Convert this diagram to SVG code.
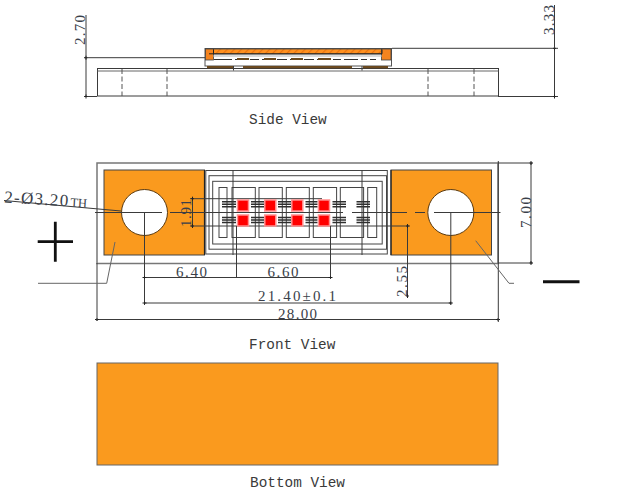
<svg xmlns="http://www.w3.org/2000/svg" width="621" height="492" viewBox="0 0 621 492">
<defs>
<pattern id="hatch" width="5" height="5" patternUnits="userSpaceOnUse" patternTransform="rotate(45)"><rect width="5" height="5" fill="#ff9120"/><rect width="1.2" height="5" fill="#e87410"/></pattern>
<marker id="tick" markerWidth="6" markerHeight="6" refX="3" refY="3" orient="auto"><path d="M1 3H5M3 1.600V4.400" stroke="#222" stroke-width="1" fill="none"/></marker>
</defs>
<style>
.l{fill:none;stroke:#444;stroke-width:1}
.m{fill:none;stroke:#3a3a3a;stroke-width:1}
.dim{fill:none;stroke:#3a3a3a;stroke-width:1;marker-start:url(#tick);marker-end:url(#tick)}
.d{fill:none;stroke:#555;stroke-width:1;stroke-dasharray:5 2.500}
.g{fill:none;stroke:#666;stroke-width:1}
.f{fill:none;stroke:#777;stroke-width:1.500}
.o{fill:#fa9a1e;stroke:#444;stroke-width:1}
.t{font-family:"Liberation Serif",serif;font-size:15px;fill:#3a3f4a}
.v{font-family:"Liberation Mono",monospace;font-size:14.400px;fill:#3a3a3a}
.b{stroke:#222;stroke-width:1.200;fill:none}
.r{fill:#f00;stroke:#ff8f8f;stroke-width:1.500}
.w{stroke:#2e2e2e;stroke-width:1.400;fill:none}
</style>
<rect width="621" height="492" fill="#fff"/>
<g id="side-view">
<rect class="m" x="97.500" y="68.500" width="401" height="27.500"/>
<path class="g" d="M97.500 71H498.500"/>
<path class="d" d="M122 69V96M167 69V96M428 69V96M474 69V96"/>
<rect x="205" y="48.500" width="186.500" height="17.500" fill="#fff" stroke="#555"/>
<rect x="205.500" y="49" width="185.500" height="5" fill="url(#hatch)" stroke="#444" stroke-width=".8"/>
<rect x="205.500" y="49" width="8" height="11" fill="#f5841f" stroke="#444" stroke-width=".8"/>
<rect x="381.500" y="49" width="9.500" height="11" fill="#f5841f" stroke="#444" stroke-width=".8"/>
<path d="M209 53.800H213.500V49.500M213.500 53.800H382M382 53.800V49.500" stroke="#222" stroke-width="1" fill="none"/>
<path d="M213.500 56H381.500" stroke="#ccc" stroke-width="1.500"/>
<path d="M214 59.500H232M235 59.500H247M250 59.500H259M262 59.500H274M277 59.500H287M290 59.500H301M304 59.500H314M317 59.500H330M333 59.500H341M344 59.500H358M361 59.500H367M370 59.500H376" stroke="#333" stroke-width="1.200"/>
<path d="M237 58.900H249M264 58.900H276M291 58.900H303M318 58.900H331" stroke="#6b4a20" stroke-width="2"/>
<path d="M207 67.200H233M243 67.200H352M363 67.200H388" stroke="#6b4a20" stroke-width="2.300"/>
<path class="m" d="M233.500 66V70.500M362 66V70.500"/>
</g>
<g id="front-view">
<rect class="f" x="97" y="163" width="401" height="100.500"/>
<rect class="o" x="104" y="170" width="100.500" height="85"/>
<rect class="o" x="391" y="170" width="100.500" height="85"/>
<circle cx="144.500" cy="212.500" r="23" fill="#fff" stroke="#5a3a10" stroke-width="1"/>
<circle cx="450.800" cy="212.500" r="23" fill="#fff" stroke="#5a3a10" stroke-width="1"/>
<path class="b" d="M204.500 170V255M391 170V255"/>
<rect class="l" x="205.800" y="170.500" width="181.500" height="83.500"/>
<rect class="l" x="209" y="175.700" width="177.500" height="73.500"/>
<rect class="l" x="212.700" y="181.300" width="169.500" height="62.700"/>
<rect class="l" x="219" y="187.500" width="8" height="50"/>
<rect class="l" x="232" y="187.500" width="23.300" height="50"/>
<rect class="l" x="259" y="187.500" width="23.300" height="50"/>
<rect class="l" x="286.300" y="187.500" width="23" height="50"/>
<rect class="l" x="313.300" y="187.500" width="23.300" height="50"/>
<rect class="l" x="340.300" y="187.500" width="23.300" height="50"/>
<rect class="l" x="367.700" y="187.500" width="9" height="50"/>
<path class="m" d="M95 212.500H162M170 212.500H343M352 212.500H407M415 212.500H425M434 212.500H500.500"/>
<path class="w" d="M222 201.800H236M251 201.800H264M278 201.800H291M305.500 201.800H317.500M332.500 201.800H346M356.500 201.800H370M222 204.300H236M251 204.300H264M278 204.300H291M305.500 204.300H317.500M332.500 204.300H346M356.500 204.300H370M222 206.800H236M251 206.800H264M278 206.800H291M305.500 206.800H317.500M332.500 206.800H346M356.500 206.800H370M222 217.500H236M251 217.500H264M278 217.500H291M305.500 217.500H317.500M332.500 217.500H346M356.500 217.500H370M222 220H236M251 220H264M278 220H291M305.500 220H317.500M332.500 220H346M356.500 220H370M222 222.500H236M251 222.500H264M278 222.500H291M305.500 222.500H317.500M332.500 222.500H346M356.500 222.500H370"/>
<path class="m" d="M190 198.700H322M190 226H410"/>
<path class="m" d="M233 170V255M362 170V255"/>
<g id="chips">
<rect class="r" x="237.500" y="200" width="11" height="11"/><rect class="r" x="237.500" y="215" width="11" height="11"/>
<rect class="r" x="264.800" y="200" width="11" height="11"/><rect class="r" x="264.800" y="215" width="11" height="11"/>
<rect class="r" x="291.800" y="200" width="11" height="11"/><rect class="r" x="291.800" y="215" width="11" height="11"/>
<rect class="r" x="318.500" y="200" width="11" height="11"/><rect class="r" x="318.500" y="215" width="11" height="11"/>
</g>
</g>
<g id="bottom-view">
<rect x="97" y="363" width="401" height="102" fill="#fa9a1e" stroke="#666"/>
</g>
<g id="connectors">
<path class="m" d="M84 57.700H205M392 48.300H558M84 96.500H97M498 96.500H558"/>
<path class="dim" d="M86 57.700V96.500"/>
<path class="m" d="M86 15V57.700"/>
<path class="dim" d="M554.500 48.300V96.500"/>
<path class="m" d="M554.500 5V48.300"/>
<path class="dim" d="M192.500 198.700V226"/>
<path class="m" d="M144.500 212.500V305M450.800 212.500V305M236.500 226V278M330.500 226V278"/>
<path class="dim" d="M407.500 226V296"/>
<path class="dim" d="M144.500 277.500H330.500"/>
<path class="dim" d="M144.500 303H450.800"/>
<path class="dim" d="M97 319.500H498"/>
<path class="m" d="M97 263V321M498.300 161V322M498 163H533M498 263H533"/>
<path class="dim" d="M531 163V263"/>
<path class="m" d="M4 200.500L121 211"/>
<path class="g" d="M38 283.300H106.700L115 242M475.700 240.700L509 283.300H514"/>
</g>
<g id="polarity">
<path d="M37.700 241.700H73M55.300 221.700V261.700" stroke="#111" stroke-width="2.800"/>
<path d="M543 281.700H579.500" stroke="#111" stroke-width="3"/>
</g>
<g id="labels">
<text class="t" transform="translate(85 45) rotate(-90)" textLength="30" lengthAdjust="spacing">2.70</text>
<text class="t" transform="translate(554 35) rotate(-90)" textLength="30" lengthAdjust="spacing">3.33</text>
<text class="v" x="249" y="123.500">Side View</text>
<text class="t" x="4" y="202.500" transform="rotate(3.400 4 202.500)" font-size="17" style="font-size:17px;letter-spacing:1.300px">2-Ø3.20<tspan style="font-size:12.500px;letter-spacing:0" dx="1">TH</tspan></text>
<text class="t" transform="translate(191 227) rotate(-90)" textLength="28" lengthAdjust="spacing">1.91</text>
<text class="t" x="176" y="276.500" textLength="31" lengthAdjust="spacing">6.40</text>
<text class="t" x="267.500" y="277" textLength="31" lengthAdjust="spacing">6.60</text>
<text class="t" x="258" y="300.500" textLength="78" lengthAdjust="spacing">21.40±0.1</text>
<text class="t" x="278" y="318.500" textLength="39" lengthAdjust="spacing">28.00</text>
<text class="t" transform="translate(406.500 297) rotate(-90)" textLength="31" lengthAdjust="spacing">2.55</text>
<text class="t" transform="translate(530.500 228) rotate(-90)" textLength="31" lengthAdjust="spacing">7.00</text>
<text class="v" x="249" y="348.500">Front View</text>
<text class="v" x="250" y="486.500">Bottom View</text>
</g>
</svg>
